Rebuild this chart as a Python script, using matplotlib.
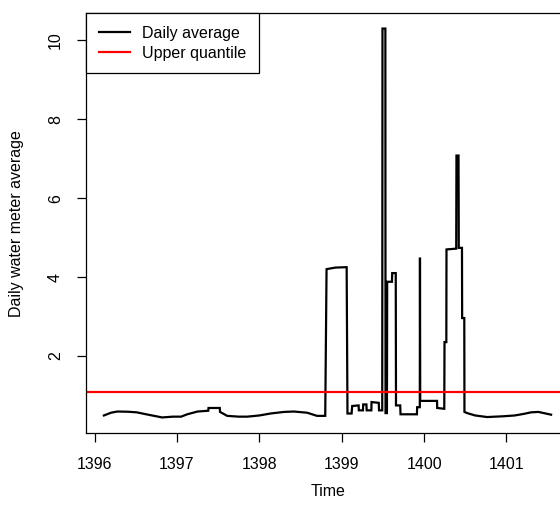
import numpy as np
import matplotlib
matplotlib.use('Agg')
import matplotlib.pyplot as plt

# decimal (Persian) year vs daily meter average
TIME = [
    1396.113, 1396.2, 1396.275, 1396.4, 1396.51, 1396.65, 1396.82, 1396.95, 1397.05,
    1397.125, 1397.25, 1397.38,
    1397.383, 1397.52, 1397.523, 1397.61, 1397.75, 1397.853, 1398.0, 1398.136, 1398.3,
    1398.419, 1398.58,
    1398.70, 1398.80, 1398.816, 1398.925, 1399.06, 1399.07, 1399.12, 1399.127,
    1399.205, 1399.208, 1399.258, 1399.261, 1399.30, 1399.303, 1399.36, 1399.362,
    1399.45, 1399.453, 1399.492, 1399.495, 1399.530, 1399.532, 1399.549, 1399.552,
    1399.61, 1399.613, 1399.656, 1399.659, 1399.71, 1399.714, 1399.913, 1399.916,
    1399.948, 1399.95, 1399.953, 1400.157, 1400.159, 1400.245, 1400.248, 1400.27,
    1400.272, 1400.39, 1400.393, 1400.418, 1400.421, 1400.46, 1400.462, 1400.488,
    1400.49, 1400.523, 1400.62, 1400.766, 1400.964, 1401.1, 1401.21, 1401.3, 1401.388,
    1401.542,
]
DAILY_AVG = [
    0.49, 0.56, 0.59, 0.585, 0.57, 0.51, 0.44, 0.46, 0.46,
    0.52, 0.59, 0.61,
    0.68, 0.68, 0.58, 0.48, 0.46, 0.46, 0.49, 0.54, 0.58,
    0.59, 0.56,
    0.48, 0.48, 4.20, 4.24, 4.25, 0.54, 0.54, 0.73,
    0.745, 0.62, 0.62, 0.77, 0.77, 0.62, 0.62, 0.83,
    0.81, 0.62, 0.62, 10.30, 10.30, 0.55, 0.55, 3.88,
    3.88, 4.10, 4.10, 0.745, 0.745, 0.52, 0.52, 0.70,
    0.70, 4.49, 0.86, 0.86, 0.68, 0.66, 2.35, 2.35,
    4.70, 4.72, 7.08, 7.08, 4.74, 4.74, 2.96, 2.96,
    0.58, 0.55, 0.49, 0.45, 0.47, 0.49, 0.53, 0.57, 0.58,
    0.51,
]
UPPER_QUANTILE = 1.08

X_TICKS = [1396, 1397, 1398, 1399, 1400, 1401]
Y_TICKS = [2, 4, 6, 8, 10]
LEGEND_LABELS = ['Daily average', 'Upper quantile']

plt.rcParams['font.family'] = ['Liberation Sans', 'DejaVu Sans']
FS = 11.5


def main():
    t = np.asarray(TIME)
    v = np.asarray(DAILY_AVG)

    fig = plt.figure(figsize=(5.6, 5.12), dpi=100)
    ax = fig.add_axes([86 / 560, 1 - 433 / 512, 483 / 560, 420 / 512])

    ax.plot(t, v, color='black', lw=1.6, solid_joinstyle='miter', label=LEGEND_LABELS[0])
    ax.axhline(UPPER_QUANTILE, color='#ff0000', lw=1.6, label=LEGEND_LABELS[1])

    # R style 4% padding around the data
    xr = t.max() - t.min()
    yr = v.max() - v.min()
    ax.set_xlim(t.min() - 0.04 * xr, t.max() + 0.04 * xr)
    ax.set_ylim(v.min() - 0.04 * yr, v.max() + 0.04 * yr)

    ax.set_xticks(X_TICKS)
    ax.set_yticks(Y_TICKS)
    ax.set_yticklabels([str(y) for y in Y_TICKS], rotation=90, va='center')
    ax.tick_params(axis='both', direction='out', length=6.5, width=0.9,
                   labelsize=FS, colors='black')
    ax.tick_params(axis='x', pad=11)
    ax.tick_params(axis='y', pad=10)
    for sp in ax.spines.values():
        sp.set_linewidth(0.9)
        sp.set_color('black')

    leg = ax.legend(loc='upper left', bbox_to_anchor=(0, 1), borderaxespad=0,
                    fancybox=False, edgecolor='black', fontsize=FS,
                    handlelength=1.95, handletextpad=0.75, labelspacing=0.3,
                    borderpad=0.8, framealpha=1)
    leg.get_frame().set_linewidth(0.9)

    fig.text(328 / 560, 1 - 491 / 512, 'Time', ha='center', va='center', fontsize=FS)
    fig.text(17 / 560, 1 - 224 / 512, 'Daily water meter average', rotation=90,
             ha='center', va='center', fontsize=FS)

    fig.savefig('out.png', dpi=100)
    plt.close(fig)


if __name__ == '__main__':
    main()
